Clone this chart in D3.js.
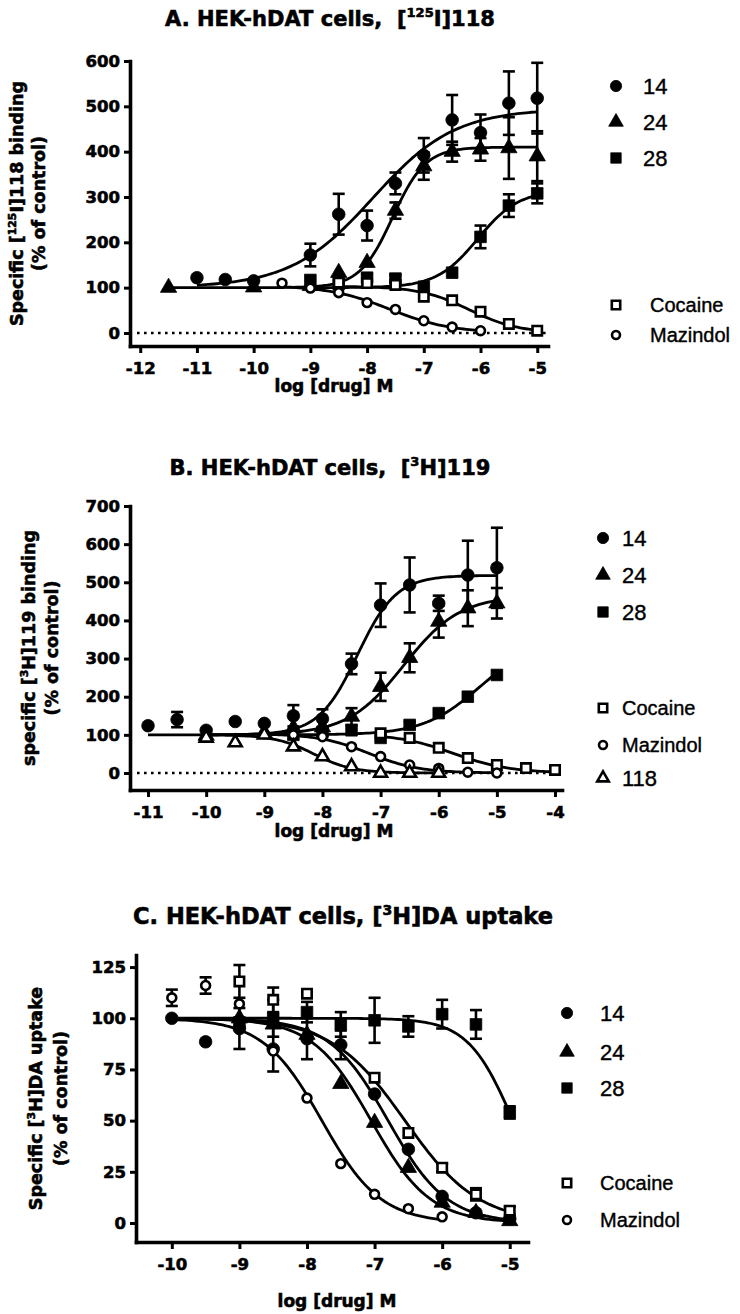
<!DOCTYPE html>
<html>
<head>
<meta charset="utf-8">
<script src="https://cdn.jsdelivr.net/npm/d3@7"></script>
<style>
  html, body { margin: 0; padding: 0; background: #fff; }
  svg { display: block; }
</style>
</head>
<body>
<svg width="740" height="1314"></svg>
<script>
// ---------- Panel A: HEK-hDAT cells, [125I]118 binding ----------
var aDose14 = [-11, -10.5, -10, -9, -8.5, -8, -7.5, -7, -6.5, -6, -5.5, -5];
var aResp14 = [122, 118, 115, 172, 262, 237, 330, 392, 470, 442, 507, 518];
var aErr14  = [0, 0, 0, 25, 45, 33, 24, 38, 55, 40, 70, 78];
var aDose24 = [-11.5, -10, -9, -8.5, -8, -7.5, -7, -6.5, -6, -5.5, -5];
var aResp24 = [100, 101, 104, 133, 155, 270, 368, 400, 405, 408, 390];
var aErr24  = [0, 0, 0, 0, 0, 18, 30, 22, 25, 68, 55];
var aDose28 = [-9, -8.5, -8, -7.5, -7, -6.5, -6, -5.5, -5];
var aResp28 = [117, 108, 122, 120, 102, 133, 212, 281, 308];
var aErr28  = [0, 0, 8, 8, 0, 0, 25, 25, 22];
var aDoseCoc = [-8.5, -8, -7.5, -7, -6.5, -6, -5.5, -5];
var aRespCoc = [111, 110, 106, 80, 72, 47, 20, 5];
var aDoseMaz = [-9.5, -9, -8.5, -8, -7.5, -7, -6.5, -6];
var aRespMaz = [110, 99, 89, 67, 52, 27, 13, 5];
// fitted curves: [bottom, top, logEC50, hill]
var aFit14  = [100, 495, -7.9, 0.6];
var aFit24  = [100, 410, -7.55, 1.5];
var aFit28  = [100, 315, -6.05, 1.2];
var aFitCoc = [0, 103, -6.2, -1.0];
var aFitMaz = [0, 105, -7.6, -0.8];
var aXTicks = [-12, -11, -10, -9, -8, -7, -6, -5];
var aYTicks = [0, 100, 200, 300, 400, 500, 600];

// ---------- Panel B: HEK-hDAT cells, [3H]119 binding ----------
var bDose14 = [-11, -10.5, -10, -9.5, -9, -8.5, -8, -7.5, -7, -6.5, -6, -5.5, -5];
var bResp14 = [124, 140, 112, 135, 130, 150, 142, 286, 440, 493, 445, 519, 538];
var bErr14  = [0, 20, 0, 0, 0, 28, 25, 27, 57, 72, 20, 90, 105];
var bDose24 = [-10, -9, -8.5, -8, -7.5, -7, -6.5, -6, -5.5, -5];
var bResp24 = [98, 105, 118, 120, 148, 226, 302, 397, 432, 445];
var bErr24  = [0, 0, 0, 0, 22, 37, 38, 42, 47, 40];
var bDose28 = [-8.5, -8, -7.5, -7, -6.5, -6, -5.5, -5];
var bResp28 = [100, 108, 112, 92, 126, 157, 200, 257];
var bErr28  = [0, 10, 0, 0, 8, 0, 0, 0];
var bDoseCoc = [-7, -6.5, -6, -5.5, -5, -4.5, -4];
var bRespCoc = [104, 92, 66, 39, 21, 13, 8];
var bDoseMaz = [-9, -8.5, -8, -7.5, -7, -6.5, -6, -5.5, -5];
var bRespMaz = [103, 100, 95, 69, 43, 21, 12, 2, 0];
var bDose118 = [-10, -9.5, -9, -8.5, -8, -7.5, -7, -6.5, -6];
var bResp118 = [92, 80, 100, 69, 43, 17, 0, 0, 0];
var bFit14  = [100, 518, -7.4, 1.3];
var bFit24  = [100, 465, -6.6, 0.9];
var bFit28  = [100, 350, -5.3, 0.9];
var bFitCoc = [0, 103, -5.75, -0.9];
var bFitMaz = [0, 103, -7.2, -1.0];
var bFit118 = [0, 100, -8.15, -1.3];
var bXTicks = [-11, -10, -9, -8, -7, -6, -5, -4];
var bYTicks = [0, 100, 200, 300, 400, 500, 600, 700];

// ---------- Panel C: HEK-hDAT cells, [3H]DA uptake ----------
var cDose14 = [-10, -9.5, -9, -8.5, -8, -7.5, -7, -6.5, -6, -5.5, -5];
var cResp14 = [100, 88.5, 95, 85, 90, 87, 63, 36, 13, 5, 2];
var cErr14  = [0, 0, 10, 11, 10, 7, 0, 0, 0, 0, 0];
var cDose24 = [-9, -8.5, -8, -7.5, -7, -6.5, -6, -5.5, -5];
var cResp24 = [100, 97, 92, 68, 49, 27, 10, 5, 1];
var cDose28 = [-9, -8.5, -8, -7.5, -7, -6.5, -6, -5.5, -5];
var cResp28 = [98, 100, 103, 97, 99, 96, 102, 97, 54];
var cErr28  = [0, 9, 5, 6, 11, 5, 7, 7, 3];
var cDoseCoc = [-9, -8.5, -8, -7, -6.5, -6, -5.5, -5];
var cRespCoc = [118, 109, 112, 71, 44, 27, 14, 6];
var cErrCoc  = [8, 6, 0, 0, 0, 2, 3, 2];
var cDoseMaz = [-10, -9.5, -9, -8.5, -8, -7.5, -7, -6.5, -6];
var cRespMaz = [110, 116, 107, 84, 61, 29, 14, 7, 3];
var cErrMaz  = [4, 4, 0, 0, 0, 0, 0, 0, 0];
var cFit14  = [0, 100, -6.8, -1.0];
var cFit24  = [0, 100, -7.05, -1.0];
var cFit28  = [0, 100, -4.95, -1.3];
var cFitCoc = [0, 100, -6.55, -0.8];
var cFitMaz = [0, 100, -7.78, -1.0];
var cXTicks = [-10, -9, -8, -7, -6, -5];
var cYTicks = [0, 25, 50, 75, 100, 125];

var svg = d3.select("svg");
var FONT = "'DejaVu Sans', sans-serif";
var LFONT = "'Liberation Sans', Arial, sans-serif";

var shapes = { circle: d3.symbolCircle, triangle: d3.symbolTriangle, square: d3.symbolSquare };
var fillSize = { circle: 125, triangle: 115, square: 135 };
var openSize = { circle: 62, triangle: 72, square: 88 };

function sigmoid(p) {
  return function(x) { return p[0] + (p[1] - p[0]) / (1 + Math.pow(10, (p[2] - x) * p[3])); };
}

// text with superscripts: parts beginning with ^ are raised
function rich(sel, parts, fs) {
  var up = false;
  parts.forEach(function(s) {
    var t = sel.append("tspan");
    if (s.charAt(0) === "^") {
      t.attr("dy", -0.42 * fs).attr("font-size", 0.62 * fs).text(s.slice(1));
      up = true;
    } else {
      if (up) t.attr("dy", 0.42 * fs);
      up = false;
      t.text(s);
    }
  });
}

function heavy(sel, fs) {
  return sel.attr("font-family", FONT).attr("font-weight", "bold").attr("font-size", fs)
    .attr("fill", "#000").attr("stroke", "#000").attr("stroke-width", 0.6);
}

function marker(g, shape, open, size, cx, cy) {
  g.append("path")
    .attr("d", d3.symbol().type(shapes[shape]).size(size)())
    .attr("transform", "translate(" + cx + "," + cy + ")")
    .attr("fill", open ? "#fff" : "#000")
    .attr("stroke", "#000")
    .attr("stroke-width", open ? 2.6 : 0.8);
}

function drawPanel(p) {
  var x = d3.scaleLinear().domain(p.xDom).range(p.xRange);
  var y = d3.scaleLinear().domain(p.yDom).range(p.yRange);
  var g = svg.append("g");

  // title
  var t = heavy(g.append("text"), p.titleSize)
    .attr("x", p.titleX).attr("y", p.titleY)
    .attr("text-anchor", "middle").style("white-space", "pre");
  rich(t, p.title, p.titleSize);

  // dotted zero line
  if (p.dotted) {
    g.append("line")
      .attr("x1", p.xRange[0] + 7).attr("x2", p.xRange[1])
      .attr("y1", y(0)).attr("y2", y(0))
      .attr("stroke", "#000").attr("stroke-width", 2.6)
      .attr("stroke-dasharray", "2.6,4.4");
  }

  // axes
  var fmt = function(d) { return String(d); };
  var xg = g.append("g").attr("transform", "translate(0," + p.yRange[0] + ")")
    .call(d3.axisBottom(x).tickValues(p.xTicks).tickSize(7).tickSizeOuter(0).tickPadding(9).tickFormat(fmt));
  var yg = g.append("g").attr("transform", "translate(" + p.xRange[0] + ",0)")
    .call(d3.axisLeft(y).tickValues(p.yTicks).tickSize(6).tickSizeOuter(0).tickPadding(4).tickFormat(fmt));
  [xg, yg].forEach(function(a) {
    a.select(".domain").attr("stroke-width", 3.6).attr("stroke-linecap", "square");
    a.selectAll(".tick line").attr("stroke-width", 3);
    heavy(a.selectAll(".tick text"), 16.5);
  });

  // axis titles
  heavy(g.append("text"), 17).attr("x", p.xTitleX).attr("y", p.xTitleY).attr("text-anchor", "middle")
    .text("log [drug] M");
  var cy = (p.yRange[0] + p.yRange[1]) / 2;
  p.yTitle.forEach(function(parts, i) {
    var yt = heavy(g.append("text"), 17.5)
      .attr("transform", "translate(" + p.yTitleX[i] + "," + cy + ") rotate(-90)")
      .attr("y", 0.36 * 17.5).attr("text-anchor", "middle");
    rich(yt, parts, 17.5);
  });

  // fitted curves
  var line = d3.line().x(function(d) { return x(d[0]); }).y(function(d) { return y(d[1]); });
  p.series.forEach(function(s) {
    var f = sigmoid(s.fit);
    var lo = s.from !== undefined ? s.from : d3.min(s.dose);
    var hi = d3.max(s.dose);
    var pts = d3.range(lo, hi + 0.001, 0.05).map(function(v) { return [v, f(v)]; });
    g.append("path").datum(pts).attr("d", line)
      .attr("fill", "none").attr("stroke", "#000").attr("stroke-width", 2.8);
  });

  // error bars, then markers on top
  p.series.forEach(function(s) {
    s.dose.forEach(function(d, i) {
      var e = s.err ? s.err[i] : 0;
      if (!e) return;
      var cx = x(d), y0 = y(s.resp[i] - e), y1 = y(s.resp[i] + e);
      g.append("line").attr("x1", cx).attr("x2", cx).attr("y1", y0).attr("y2", y1)
        .attr("stroke", "#000").attr("stroke-width", 2.6);
      [y0, y1].forEach(function(yy) {
        g.append("line").attr("x1", cx - 6).attr("x2", cx + 6).attr("y1", yy).attr("y2", yy)
          .attr("stroke", "#000").attr("stroke-width", 2.6);
      });
    });
  });
  p.series.forEach(function(s) {
    s.dose.forEach(function(d, i) {
      marker(g, s.shape, s.open, s.open ? openSize[s.shape] : fillSize[s.shape], x(d), y(s.resp[i]));
    });
  });

  // legend
  p.legend.forEach(function(it) {
    marker(g, it.shape, it.open, (it.open ? openSize[it.shape] : fillSize[it.shape]) * 0.8, p.legX, it.y);
    g.append("text").attr("x", it.tx).attr("y", it.y).attr("dy", "0.36em")
      .attr("font-family", LFONT).attr("font-size", it.big ? 22 : 20)
      .attr("stroke", "#000").attr("stroke-width", 0.4)
      .text(it.label);
  });
}

drawPanel({
  xDom: [-12.18, -4.81], xRange: [130, 548],
  yDom: [-28.7, 600], yRange: [346, 61],
  xTicks: aXTicks, yTicks: aYTicks,
  title: ["A. HEK-hDAT cells,  [", "^125", "I]118"], titleX: 330, titleY: 26, titleSize: 21,
  xTitleX: 334, xTitleY: 392, yTitleX: [17, 39],
  yTitle: [["Specific [", "^125", "I]118 binding"], ["(% of control)"]],
  dotted: true,
  series: [
    { dose: aDose14, resp: aResp14, err: aErr14, fit: aFit14, shape: "circle" },
    { dose: aDose24, resp: aResp24, err: aErr24, fit: aFit24, shape: "triangle" },
    { dose: aDose28, resp: aResp28, err: aErr28, fit: aFit28, shape: "square" },
    { dose: aDoseCoc, resp: aRespCoc, fit: aFitCoc, shape: "square", open: true },
    { dose: aDoseMaz, resp: aRespMaz, fit: aFitMaz, shape: "circle", open: true }
  ],
  legX: 616,
  legend: [
    { shape: "circle", label: "14", y: 86, tx: 643, big: true },
    { shape: "triangle", label: "24", y: 122, tx: 643, big: true },
    { shape: "square", label: "28", y: 158, tx: 643, big: true },
    { shape: "square", open: true, label: "Cocaine", y: 305, tx: 650 },
    { shape: "circle", open: true, label: "Mazindol", y: 335, tx: 650 }
  ]
});

drawPanel({
  xDom: [-11.31, -3.88], xRange: [130, 562],
  yDom: [-44.6, 700], yRange: [790, 506],
  xTicks: bXTicks, yTicks: bYTicks,
  title: ["B. HEK-hDAT cells,  [", "^3", "H]119"], titleX: 330, titleY: 475, titleSize: 21,
  xTitleX: 334, xTitleY: 837, yTitleX: [29, 52],
  yTitle: [["specific [", "^3", "H]119 binding"], ["(% of control)"]],
  dotted: true,
  series: [
    { dose: bDose14, resp: bResp14, err: bErr14, fit: bFit14, shape: "circle" },
    { dose: bDose24, resp: bResp24, err: bErr24, fit: bFit24, shape: "triangle" },
    { dose: bDose28, resp: bResp28, err: bErr28, fit: bFit28, shape: "square" },
    { dose: bDoseCoc, resp: bRespCoc, fit: bFitCoc, shape: "square", open: true },
    { dose: bDoseMaz, resp: bRespMaz, fit: bFitMaz, shape: "circle", open: true },
    { dose: bDose118, resp: bResp118, fit: bFit118, shape: "triangle", open: true }
  ],
  legX: 603,
  legend: [
    { shape: "circle", label: "14", y: 538, tx: 622, big: true },
    { shape: "triangle", label: "24", y: 575, tx: 622, big: true },
    { shape: "square", label: "28", y: 612, tx: 622, big: true },
    { shape: "square", open: true, label: "Cocaine", y: 708, tx: 622 },
    { shape: "circle", open: true, label: "Mazindol", y: 745, tx: 622 },
    { shape: "triangle", open: true, label: "118", y: 778, tx: 622, big: true }
  ]
});

drawPanel({
  xDom: [-10.53, -4.73], xRange: [136, 528],
  yDom: [-9.28, 130.9], yRange: [1242, 955],
  xTicks: cXTicks, yTicks: cYTicks,
  title: ["C. HEK-hDAT cells, [", "^3", "H]DA uptake"], titleX: 343, titleY: 924, titleSize: 22.5,
  xTitleX: 337, xTitleY: 1307, yTitleX: [36, 61],
  yTitle: [["Specific [", "^3", "H]DA uptake"], ["(% of control)"]],
  dotted: false,
  series: [
    { dose: cDose14, resp: cResp14, err: cErr14, fit: cFit14, shape: "circle", from: -10 },
    { dose: cDose24, resp: cResp24, fit: cFit24, shape: "triangle", from: -10 },
    { dose: cDose28, resp: cResp28, err: cErr28, fit: cFit28, shape: "square", from: -10 },
    { dose: cDoseCoc, resp: cRespCoc, err: cErrCoc, fit: cFitCoc, shape: "square", open: true, from: -10 },
    { dose: cDoseMaz, resp: cRespMaz, err: cErrMaz, fit: cFitMaz, shape: "circle", open: true, from: -10 }
  ],
  legX: 567,
  legend: [
    { shape: "circle", label: "14", y: 1013, tx: 600, big: true },
    { shape: "triangle", label: "24", y: 1052, tx: 600, big: true },
    { shape: "square", label: "28", y: 1088, tx: 600, big: true },
    { shape: "square", open: true, label: "Cocaine", y: 1183, tx: 600 },
    { shape: "circle", open: true, label: "Mazindol", y: 1220, tx: 600 }
  ]
});
</script>
</body>
</html>
